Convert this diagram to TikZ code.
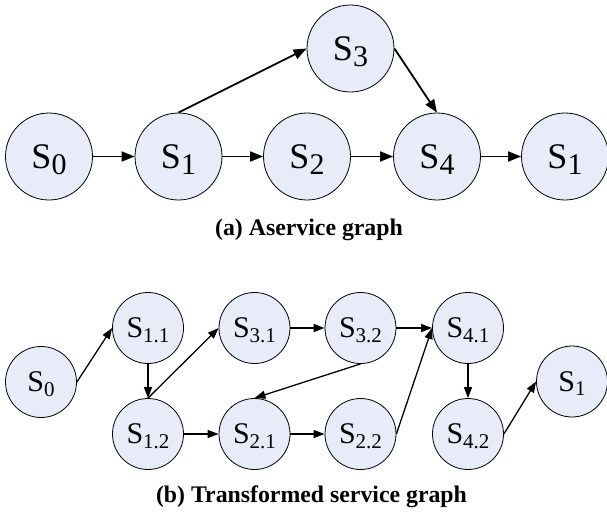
\documentclass[tikz,border=0pt]{standalone}
\usepackage{fontspec}
\setmainfont{Liberation Serif}
\newfontfamily\labelfont{Liberation Serif}
\usetikzlibrary{arrows.meta}
\definecolor{nodefill}{RGB}{232,236,248}
\newcommand{\bigS}[1]{{\labelfont\fontsize{36}{36}\selectfont S\raisebox{-6pt}[0pt][0pt]{\fontsize{30}{30}\selectfont #1}}}
\newcommand{\smallS}[1]{{\labelfont\fontsize{30}{30}\selectfont S\raisebox{-4.5pt}[0pt][0pt]{\fontsize{21}{21}\selectfont #1}}}
\begin{document}
\begin{tikzpicture}[x=1pt,y=-1pt,
  bignode/.style={circle,draw=black,line width=0.8pt,fill=nodefill,minimum size=87pt,inner sep=0pt},
  smallnode/.style={circle,draw=black,line width=0.8pt,fill=nodefill,minimum size=71pt,inner sep=0pt},
  bigarrow/.style={-{Triangle[length=13pt,width=10pt]},line width=1.8pt},
  smallarrow/.style={-{Triangle[length=11pt,width=8pt]},line width=1.3pt},
  captext/.style={font=\labelfont\fontsize{23.8}{24}\selectfont\bfseries,inner sep=0pt}]
\useasboundingbox (0,0) rectangle (607,514);
% top graph
\node[bignode] (a0) at (49,156.5) {\bigS{0}};
\node[bignode] (a1) at (178.5,156.5) {\bigS{1}};
\node[bignode] (a2) at (307,156.5) {\bigS{2}};
\node[bignode] (a3) at (350.5,48.5) {\bigS{3}};
\node[bignode] (a4) at (437,156.5) {\bigS{4}};
\node[bignode] (a5) at (565,156.5) {\bigS{1}};
\draw[bigarrow] (a0) -- (a1);
\draw[bigarrow] (a1) -- (a2);
\draw[bigarrow] (a2) -- (a4);
\draw[bigarrow] (a4) -- (a5);
\draw[bigarrow] (a1.north) -- (a3.west);
\draw[bigarrow] (a3.east) -- (a4.north);
\node[captext] (capa) at (309,230) {(a) Aservice graph};
% bottom graph
\node[smallnode] (b0) at (41,382) {\smallS{0}};
\node[smallnode] (b11) at (148,328) {\smallS{1.1}};
\node[smallnode] (b12) at (148,434) {\smallS{1.2}};
\node[smallnode] (b31) at (254.5,328) {\smallS{3.1}};
\node[smallnode] (b32) at (360.5,328) {\smallS{3.2}};
\node[smallnode] (b41) at (468,328) {\smallS{4.1}};
\node[smallnode] (b21) at (254.5,434) {\smallS{2.1}};
\node[smallnode] (b22) at (360.5,434) {\smallS{2.2}};
\node[smallnode] (b42) at (468,434) {\smallS{4.2}};
\node[smallnode] (b5) at (572,381.5) {\smallS{1}};
\draw[smallarrow] (b0.east) -- (b11.west);
\draw[smallarrow] (b11) -- (b12);
\draw[smallarrow] (b12.north) -- (b31.west);
\draw[smallarrow] (b31) -- (b32);
\draw[smallarrow] (b32) -- (b41);
\draw[smallarrow] (b32.south) -- (b21.north);
\draw[smallarrow] (b12) -- (b21);
\draw[smallarrow] (b21) -- (b22);
\draw[smallarrow] (b22.east) -- (b41.west);
\draw[smallarrow] (b41) -- (b42);
\draw[smallarrow] (b42.east) -- (b5.west);
\node[captext] (capb) at (311.5,497) {(b) Transformed service graph};
\end{tikzpicture}
\end{document}
